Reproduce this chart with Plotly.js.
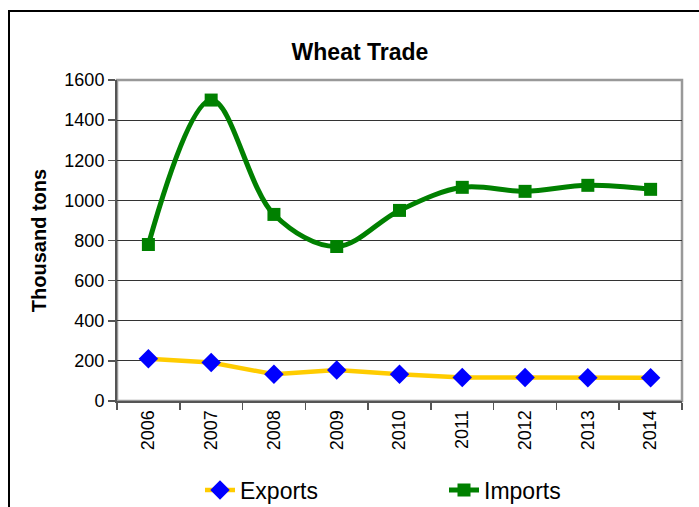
<!DOCTYPE html>
<html>
<head>
<meta charset="utf-8">
<script src="https://cdn.plot.ly/plotly-3.0.1.min.js"></script>
<style>html,body{margin:0;padding:0;background:#fff;}#chart{width:699px;height:507px;}</style>
</head>
<body>
<div id="chart"></div>
<script>
const years = ["2006","2007","2008","2009","2010","2011","2012","2013","2014"];
const exportsVals = [211, 192, 133, 155, 133, 117, 117, 116, 116];
const importsVals = [780, 1500, 930, 770, 950, 1065, 1045, 1075, 1055];
const yTicks = [0, 200, 400, 600, 800, 1000, 1200, 1400, 1600];

const traces = [
  {
    x: years, y: exportsVals, name: "Exports", type: "scatter", mode: "lines+markers",
    line: {color: "#FFCC00", width: 4.5},
    marker: {symbol: "diamond", color: "#0000FF", size: 15},
    legend: "legend"
  },
  {
    x: years, y: importsVals, name: "Imports", type: "scatter", mode: "lines+markers",
    line: {color: "#008000", width: 5, shape: "spline", smoothing: 1},
    marker: {symbol: "square", color: "#008000", size: 13},
    legend: "legend2"
  }
];

const legendCommon = {
  orientation: "h", xanchor: "left", yanchor: "middle",
  xref: "container", yref: "container",
  font: {size: 23, color: "#000"}, bgcolor: "rgba(0,0,0,0)", borderwidth: 0
};

const layout = {
  width: 699, height: 507,
  margin: {l: 117, r: 17, t: 80, b: 106, autoexpand: false},
  paper_bgcolor: "#fff", plot_bgcolor: "#fff",
  font: {family: "Arial, 'Liberation Sans', sans-serif", color: "#000"},
  title: {text: "<b>Wheat Trade</b>", x: 360/699, xref: "container", xanchor: "center",
          y: 1 - 52/507, yref: "container", yanchor: "middle",
          font: {size: 23, color: "#000"}},
  showlegend: true,
  legend: Object.assign({}, legendCommon, {x: 200/699, y: 1 - 490/507}),
  legend2: Object.assign({}, legendCommon, {x: 444/699, y: 1 - 490/507}),
  xaxis: {
    type: "category", tickangle: -90, tickson: "boundaries",
    ticks: "outside", ticklen: 7, tickcolor: "#555", tickwidth: 1.5,
    showline: true, linecolor: "#555", linewidth: 2,
    showgrid: false, zeroline: false,
    tickfont: {size: 18, color: "#000"},
    range: [-0.5, 8.5]
  },
  yaxis: {
    range: [0, 1600], tickvals: yTicks, ticktext: yTicks.map(String),
    ticks: "outside", ticklen: 7, tickcolor: "#555", tickwidth: 1.5,
    showline: true, linecolor: "#555", linewidth: 2,
    showgrid: true, gridcolor: "#333", gridwidth: 1, zeroline: false,
    tickfont: {size: 18, color: "#000"},
    title: {text: "<b>Thousand tons</b>", font: {size: 20, color: "#000"}, standoff: 12}
  },
  shapes: [
    {type: "rect", xref: "paper", yref: "paper", x0: 0, x1: 1, y0: 0, y1: 1,
     line: {color: "#999", width: 2.5}, layer: "below"},
    {type: "rect", xref: "paper", yref: "paper", x0: (9-117)/565, x1: 2, y0: -2, y1: (401-11)/321,
     line: {color: "#000", width: 2}, fillcolor: "rgba(0,0,0,0)", layer: "below"}
  ]
};

Plotly.newPlot("chart", traces, layout, {displayModeBar: false, staticPlot: true});
</script>
</body>
</html>
